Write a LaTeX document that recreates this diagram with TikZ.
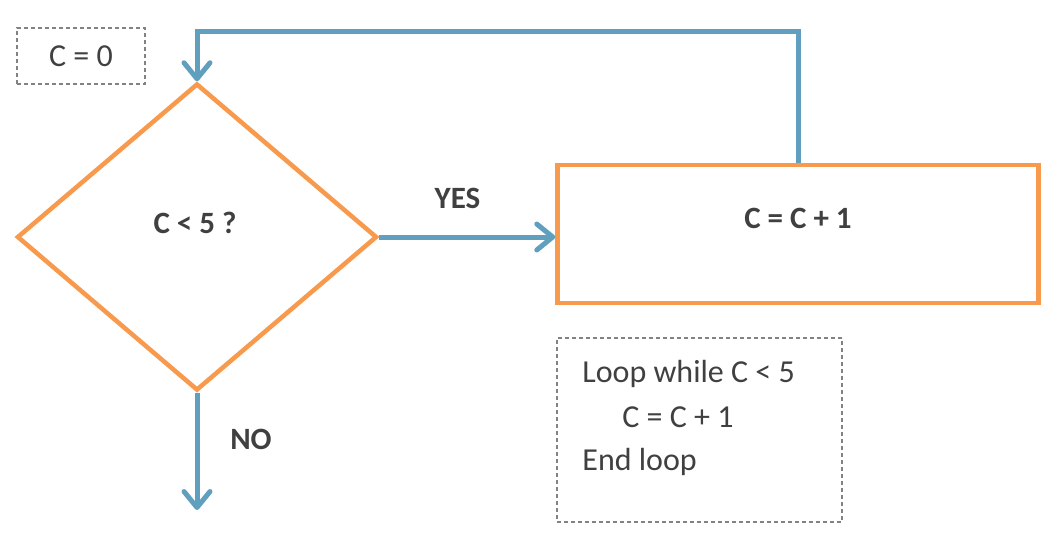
\documentclass[tikz,border=0pt]{standalone}
\usepackage{fontspec}
\setmainfont{Carlito}
\usetikzlibrary{shapes.geometric, arrows.meta, positioning}
\definecolor{flowblue}{RGB}{96,160,190}
\definecolor{boxorange}{RGB}{248,154,78}
\definecolor{txtgray}{RGB}{64,64,64}
\definecolor{dashgray}{RGB}{130,130,130}
\tikzset{
 flow/.style={draw=flowblue, line width=2.5pt, -{Straight Barb[length=8pt, width=13pt, round]}},
 decision/.style={diamond, draw=boxorange, line width=2.25pt, minimum width=180pt, minimum height=153.5pt, inner sep=0pt},
 process/.style={rectangle, draw=boxorange, line width=2.25pt, minimum width=240.5pt, minimum height=69pt},
 note/.style={rectangle, draw=dashgray, line width=0.6pt, dash pattern=on 2pt off 1.5pt},
 answer/.style={text=txtgray, font=\fontsize{15.5pt}{18pt}\selectfont\bfseries, inner sep=0pt},
 code/.style={text=txtgray, font=\fontsize{16pt}{19pt}\selectfont, inner sep=0pt}
}

\begin{document}
\begin{tikzpicture}[x=0.5pt, y=-0.5pt]
 \useasboundingbox (0,0) rectangle (1048,537);
 \node [note, minimum width=64pt, minimum height=28pt] (start) at (81,56) {};
 \node [code] (startText) at (start.center) {C = 0};
 \node [decision] (test) at (197,237) {};
 \node [answer] (testText) at (195,223) {C < 5 ?};
 \node [process] (inc) at (798,234) {};
 \node [answer] (incText) at (798,218) {C = C + 1};
 \node [note, minimum width=142.5pt, minimum height=92pt] (pseudo) at (699.5,430) {};
 \node [code, anchor=base west] (line1) at (582,382) {Loop while C < 5};
 \node [code, anchor=base west] (line2) at (622,427) {C = C + 1};
 \node [code, anchor=base west] (line3) at (582,470) {End loop};
 \node [answer] (yes) at (457.5,198) {YES};
 \node [answer] (no) at (251,439) {NO};
 \coordinate (ret) at (798,31);
 \coordinate (exit) at (197,510);
 \draw [flow] (inc.north) -- (ret) -| (test.north);
 \draw [flow] (test.east) -- (test.east -| inc.west);
 \draw [flow] (test.south) -- (exit);
\end{tikzpicture}
\end{document}
